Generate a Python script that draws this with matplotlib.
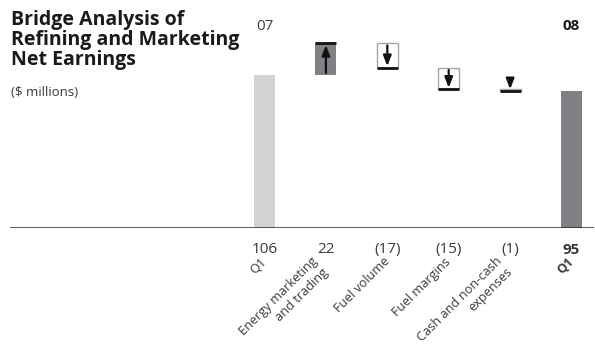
import matplotlib
matplotlib.use('Agg')
import matplotlib.pyplot as plt
import numpy as np

plt.rcParams['font.family'] = ['Open Sans', 'DejaVu Sans']

# Bridge steps ($ millions)
categories = ['Q1', 'Energy marketing\nand trading', 'Fuel volume',
              'Fuel margins', 'Cash and non-cash\nexpenses', 'Q1']
values = [106, 22, -17, -15, -1, 95]
value_labels = ['106', '22', '(17)', '(15)', '(1)', '95']
years = ['07', '08']

light_gray = '#d1d2d4'
mid_gray = '#808184'
text_color = '#3a3a3a'

fig = plt.figure(figsize=(5.95, 3.58), dpi=100)
ax = fig.add_axes([10 / 595, 130 / 358, 584 / 595, 202 / 358])
ax.set_xlim(-4.145, 5.366)
ax.set_ylim(0, 140)
ax.axis('off')

width = 0.342
x = np.arange(len(values))

# px per data unit, used for arrow head sizing
px_per_unit = 202 / 140
head_units = 8.5 / px_per_unit

# first and last totals
ax.bar(x[0], values[0], width=width, color=light_gray, zorder=2)
ax.bar(x[-1], values[-1], width=width, color=mid_gray, zorder=2)

running = values[0]
for i in range(1, len(values) - 1):
    start = running
    end = running + values[i]
    lo, hi = min(start, end), max(start, end)
    if values[i] > 0:
        ax.bar(x[i], hi - lo, bottom=lo, width=width, color=mid_gray, zorder=2)
    else:
        ax.bar(x[i], hi - lo, bottom=lo, width=width, facecolor='white',
               edgecolor='#a5a5a5', linewidth=1.0, zorder=2)
    # closing line at the end value
    ax.plot([x[i] - width / 2, x[i] + width / 2], [end, end],
            color='#111111', lw=2, solid_capstyle='butt', zorder=4)
    # arrow from start to end; short steps keep room for the head
    sign = 1 if end > start else -1
    tail = start
    if abs(end - start) < head_units * 1.2:
        tail = end - sign * head_units
        shrink_a = 0
    else:
        shrink_a = 1.5
    ax.annotate('', xy=(x[i], end), xytext=(x[i], tail),
                arrowprops=dict(arrowstyle='-|>,head_length=0.62,head_width=0.24',
                                mutation_scale=10, color='#111111', lw=1.6,
                                shrinkA=shrink_a, shrinkB=1.2),
                zorder=5)
    running = end

# baseline
ax.axhline(0, color='#2a2a2a', lw=1.8, zorder=3)

# value labels under the baseline
for i, lab in enumerate(value_labels):
    bold = i == len(value_labels) - 1
    ax.annotate(lab, xy=(x[i], 0), xytext=(0, -15.5), textcoords='offset points',
                ha='center', va='center', fontsize=11, color=text_color,
                fontweight='bold' if bold else 'normal', annotation_clip=False)

# rotated category labels
for i, lab in enumerate(categories):
    bold = i == len(categories) - 1
    ax.annotate(lab, xy=(x[i], 0), xytext=(3.5, -19.5), textcoords='offset points',
                ha='right', va='top', rotation=45, fontsize=9.2,
                color=text_color, multialignment='right', linespacing=1.2,
                fontweight='bold' if bold else 'normal', annotation_clip=False)

# year labels above the totals
ax.text(x[0], 1.0, years[0], transform=ax.get_xaxis_transform(),
        ha='center', va='center', fontsize=11, color=text_color)
ax.text(x[-1], 1.0, years[1], transform=ax.get_xaxis_transform(),
        ha='center', va='center', fontsize=11, color='#1a1a1a',
        fontweight='bold')

fig.text(11 / 595, 1 - 10 / 358, 'Bridge Analysis of\nRefining and Marketing\nNet Earnings',
         ha='left', va='top', fontsize=14, fontweight='bold', color='#1a1a1a',
         linespacing=1.0)
fig.text(11 / 595, 1 - 92 / 358, '($ millions)', ha='left', va='center',
         fontsize=9.5, color=text_color)

fig.savefig('out.png', dpi=100)
